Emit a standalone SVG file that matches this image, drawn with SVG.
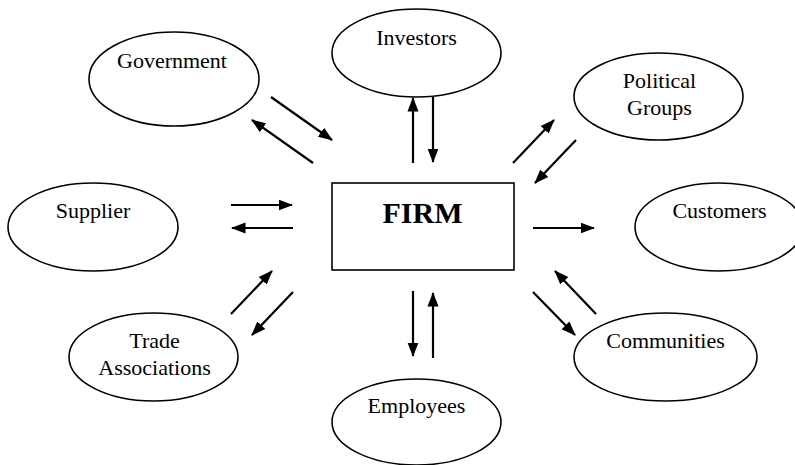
<svg xmlns="http://www.w3.org/2000/svg" width="795" height="465" viewBox="0 0 795 465">
<style>
.node ellipse, .node rect { fill: #fff; stroke: #000; stroke-width: 1.6; }
.lbl { font-family: "Liberation Serif", "Times New Roman", serif; font-size: 22px; fill: #000; text-anchor: middle; }
.firm { font-family: "Liberation Serif", "Times New Roman", serif; font-size: 30px; font-weight: bold; fill: #000; text-anchor: middle; }
.conn line { stroke: #000; stroke-width: 2.2; marker-end: url(#ah); }
</style>
<defs>
<marker id="ah" markerUnits="userSpaceOnUse" markerWidth="15" markerHeight="12" refX="13.5" refY="5.5" orient="auto" viewBox="0 0 15 11">
<path d="M0,0 L14.5,5.5 L0,11 z" fill="#000"/>
</marker>
</defs>
<rect width="795" height="465" fill="#fff"/>
<g id="firm" class="node">
<rect x="332" y="183" width="182" height="87"/>
<text class="firm" x="422.5" y="223">FIRM</text>
</g>
<g id="government" class="node">
<ellipse cx="174" cy="79" rx="85" ry="47"/>
<text class="lbl" x="172" y="68">Government</text>
</g>
<g id="investors" class="node">
<ellipse cx="416.5" cy="53" rx="84.5" ry="44"/>
<text class="lbl" x="416.5" y="45">Investors</text>
</g>
<g id="political-groups" class="node">
<ellipse cx="658.5" cy="96.5" rx="84.5" ry="43.5"/>
<text class="lbl" x="659.5" y="88">Political</text>
<text class="lbl" x="659.5" y="115">Groups</text>
</g>
<g id="supplier" class="node">
<ellipse cx="93" cy="227" rx="85" ry="44"/>
<text class="lbl" x="93" y="218">Supplier</text>
</g>
<g id="customers" class="node">
<ellipse cx="719" cy="227" rx="84" ry="44"/>
<text class="lbl" x="719.5" y="218">Customers</text>
</g>
<g id="trade-associations" class="node">
<ellipse cx="153.5" cy="357" rx="84.5" ry="44"/>
<text class="lbl" x="154.5" y="348">Trade</text>
<text class="lbl" x="154.5" y="375">Associations</text>
</g>
<g id="employees" class="node">
<ellipse cx="416.5" cy="422" rx="84.5" ry="43"/>
<text class="lbl" x="416.5" y="413">Employees</text>
</g>
<g id="communities" class="node">
<ellipse cx="665.5" cy="357" rx="91.5" ry="44"/>
<text class="lbl" x="665.5" y="348">Communities</text>
</g>
<g id="connectors" class="conn">
<line x1="271" y1="97" x2="332" y2="140"/>
<line x1="313" y1="163" x2="252" y2="120"/>
<line x1="413" y1="163" x2="413" y2="98"/>
<line x1="433" y1="97" x2="433" y2="162"/>
<line x1="513" y1="163" x2="554" y2="120"/>
<line x1="576" y1="140" x2="535" y2="183"/>
<line x1="231" y1="205" x2="292" y2="205"/>
<line x1="293" y1="228" x2="232" y2="228"/>
<line x1="533" y1="228" x2="594" y2="228"/>
<line x1="231" y1="314" x2="272" y2="271"/>
<line x1="293" y1="292" x2="252" y2="335"/>
<line x1="413" y1="291" x2="413" y2="356"/>
<line x1="433" y1="358" x2="433" y2="293"/>
<line x1="533" y1="292" x2="575" y2="335"/>
<line x1="596" y1="314" x2="555" y2="271"/>
</g>
</svg>
